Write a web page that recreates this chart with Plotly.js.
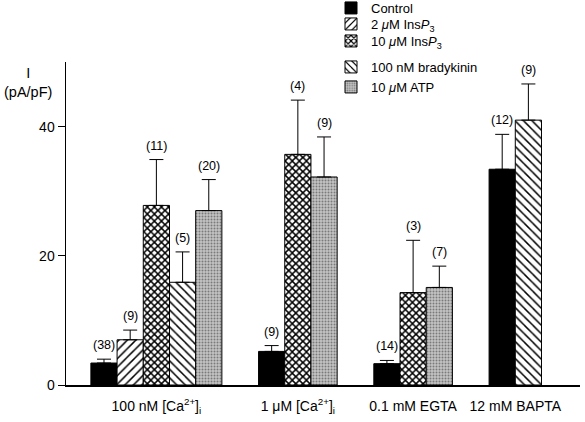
<!DOCTYPE html>
<html>
<head>
<meta charset="utf-8">
<script src="https://cdn.plot.ly/plotly-3.0.1.min.js"></script>
<style>html,body{margin:0;padding:0;background:#fff;}#chart{width:585px;height:422px;}</style>
</head>
<body>
<div id="chart"></div>
<script>
// ---- data ----
const categories = ['100 nM [Ca<sup>2+</sup>]<sub>i</sub>', '1 μM [Ca<sup>2+</sup>]<sub>i</sub>', '0.1 mM EGTA', '12 mM BAPTA'];
const seriesNames = ['Control', '2 <i>μ</i>M Ins<i>P</i><sub>3</sub>', '10 <i>μ</i>M Ins<i>P</i><sub>3</sub>', '100 nM bradykinin', '10 <i>μ</i>M ATP'];

const control    = [3.4, 5.2, 3.3, 33.4];
const controlErr = [0.6, 0.9, 0.5, 5.4];
const controlN   = [38, 9, 14, 12];

const ins2    = [7.0, null, null, null];
const ins2Err = [1.5, null, null, null];
const ins2N   = [9, null, null, null];

const ins10    = [27.8, 35.7, 14.3, null];
const ins10Err = [7.1, 8.4, 8.1, null];
const ins10N   = [11, 4, 3, null];

const brady    = [15.9, null, null, 41.0];
const bradyErr = [4.7, null, null, 5.6];
const bradyN   = [5, null, null, 9];

const atp    = [27.0, 32.2, 15.1, null];
const atpErr = [4.8, 6.2, 3.3, null];
const atpN   = [20, 9, 7, null];

const yTicks = [0, 20, 40];

// ---- styles ----
const values = [control, ins2, ins10, brady, atp];
const errs = [controlErr, ins2Err, ins10Err, bradyErr, atpErr];
const ns = [controlN, ins2N, ins10N, bradyN, atpN];
const patterns = [
  null,
  {shape: '/', fgcolor: '#000', bgcolor: '#fff', size: 6, solidity: 0.25},
  {shape: 'x', fgcolor: '#000', bgcolor: '#fff', size: 5, solidity: 0.5},
  {shape: '\\', fgcolor: '#000', bgcolor: '#fff', size: 6, solidity: 0.25},
  {shape: '.', fgcolor: '#7a7a7a', bgcolor: '#c4c4c4', size: 3, solidity: 0.35}
];
const fills = ['#000', '#fff', '#fff', '#fff', '#c4c4c4'];
// legend row centres (px from top of the page)
const legendRows = [8, 24, 41, 67, 87];

// ---- positions: bars adjacent within a group, gap between groups ----
const groupGap = 1.4;
let cursor = 0;
const pos = values.map(() => []);
const centers = [];
categories.forEach((c, g) => {
  const start = cursor;
  values.forEach((s, i) => {
    if (s[g] != null) { pos[i][g] = cursor; cursor += 1; } else { pos[i][g] = null; }
  });
  centers.push((start + cursor - 1) / 2);
  cursor += groupGap;
});
const lastCenter = cursor - groupGap - 1;

const traces = [];
const annotations = [];
const legendKeys = ['legend', 'legend2', 'legend3', 'legend4', 'legend5'];
values.forEach((s, i) => {
  const xs = [], ys = [], es = [], em = [];
  s.forEach((v, g) => {
    if (v == null) return;
    xs.push(pos[i][g]); ys.push(v); es.push(errs[i][g]); em.push(0);
    annotations.push({
      x: pos[i][g], y: v + errs[i][g], xref: 'x', yref: 'y',
      text: '(' + ns[i][g] + ')', showarrow: false, yanchor: 'bottom', yshift: 5,
      font: {size: 12.5, color: '#000'}
    });
  });
  const marker = {color: fills[i], line: {color: '#000', width: 1}};
  if (patterns[i]) marker.pattern = patterns[i];
  traces.push({
    type: 'bar', name: seriesNames[i], x: xs, y: ys, width: 1,
    legend: legendKeys[i],
    marker: marker,
    error_y: {type: 'data', symmetric: false, array: es, arrayminus: em, color: '#000', thickness: 1, width: 7},
    hoverinfo: 'skip'
  });
});

annotations.push({
  xref: 'paper', yref: 'paper', x: -0.074, y: 0.937, text: 'I<br>(pA/pF)',
  showarrow: false, xanchor: 'center', yanchor: 'middle', font: {size: 14.5, color: '#000'}
});

const layout = {
  width: 585, height: 422,
  margin: {l: 66, r: 5, t: 62, b: 37, autoexpand: false},
  paper_bgcolor: '#fff', plot_bgcolor: '#fff',
  font: {family: 'Arial, "Liberation Sans", sans-serif', color: '#000'},
  showlegend: true,
  barmode: 'overlay',
  xaxis: {
    range: [-1.45, lastCenter + 0.5 + 1.47],
    tickvals: centers, ticktext: categories, ticks: '', tickangle: 0,
    showline: true, linecolor: '#000', linewidth: 1.5,
    showgrid: false, zeroline: false, tickfont: {size: 14}, ticklabelstandoff: 8
  },
  yaxis: {
    range: [0, 50], tickvals: yTicks, ticktext: yTicks.map(String),
    ticks: 'outside', ticklen: 7, tickcolor: '#000', tickwidth: 1,
    showline: true, linecolor: '#000', linewidth: 1.5,
    showgrid: false, zeroline: false, tickfont: {size: 14}
  },
  annotations: annotations
};
legendKeys.forEach((k, i) => {
  layout[k] = {
    xref: 'container', yref: 'container',
    x: 331 / 585, y: 1 - legendRows[i] / 422, xanchor: 'left', yanchor: 'middle',
    bgcolor: 'rgba(0,0,0,0)', borderwidth: 0, font: {size: 13}
  };
});

Plotly.newPlot('chart', traces, layout, {displayModeBar: false, staticPlot: true});
</script>
</body>
</html>
